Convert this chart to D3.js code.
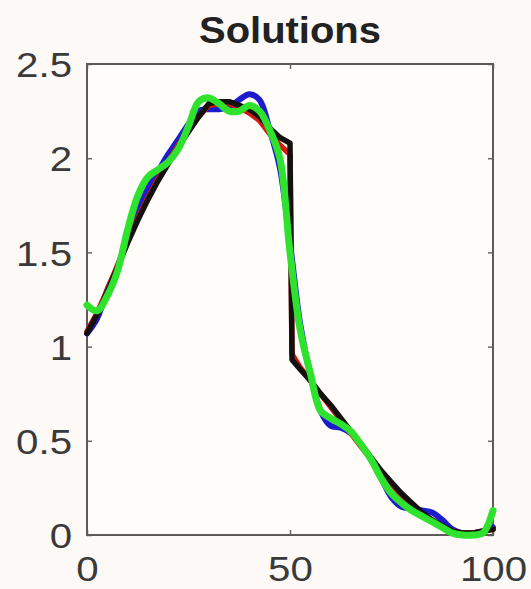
<!DOCTYPE html>
<html>
<head>
<meta charset="utf-8">
<script src="https://cdn.jsdelivr.net/npm/d3@7"></script>
<style>
  html, body { margin: 0; padding: 0; background: #fdf9f6; }
  svg { display: block; }
</style>
</head>
<body>
<svg id="chart" width="531" height="589"></svg>
<script>
// ---- data ----
const titleText = "Solutions";
const xTicks = [0, 50, 100];
const yTicks = [0, 0.5, 1, 1.5, 2, 2.5];

const gridX = [0,2.5,5,7.5,10,12.5,15,17.5,20,22.5,25,27.5,30,32.5,35,37.5,40,42.5,45,47.5,50,52.5,55,57.5,60,62.5,65,67.5,70,72.5,75,77.5,80,82.5,85,87.5,90,92.5,95,97.5,100];
const greenY = [1.22,1.19,1.27,1.40,1.62,1.80,1.90,1.94,1.98,2.05,2.17,2.30,2.32,2.29,2.25,2.25,2.28,2.25,2.15,2.00,1.50,1.09,0.86,0.66,0.62,0.59,0.55,0.48,0.40,0.30,0.22,0.17,0.13,0.10,0.07,0.04,0.01,0.00,0.00,0.01,0.13];
const blueY  = [1.07,1.15,1.30,1.42,1.58,1.72,1.84,1.93,2.02,2.10,2.18,2.25,2.26,2.26,2.27,2.31,2.34,2.31,2.15,1.95,1.55,1.12,0.85,0.66,0.58,0.57,0.54,0.48,0.40,0.30,0.20,0.15,0.14,0.13,0.12,0.08,0.03,0.01,0.01,0.02,0.04];

const exactX = [0,2.5,5,7.5,10,12.5,15,17.5,20,22.5,25,27.5,30,32.5,35,37.5,40,42.5,45,47.5,50,50.5,52.5,55,57.5,60,62.5,65,67.5,70,72.5,75,77.5,80,82.5,85,87.5,90,92.5,95,97.5,100];
const blackY = [1.07,1.17,1.29,1.42,1.55,1.67,1.78,1.88,1.97,2.06,2.14,2.22,2.29,2.30,2.30,2.28,2.26,2.22,2.16,2.11,2.08,0.93,0.88,0.82,0.75,0.69,0.62,0.55,0.48,0.41,0.34,0.28,0.22,0.17,0.12,0.08,0.05,0.02,0.01,0.01,0.02,0.03];
const redY   = [1.08,1.18,1.30,1.43,1.56,1.68,1.79,1.89,1.98,2.07,2.15,2.22,2.28,2.29,2.29,2.27,2.24,2.20,2.13,2.07,2.02,0.96,0.89,0.82,0.75,0.68,0.61,0.54,0.47,0.40,0.33,0.27,0.21,0.16,0.11,0.07,0.04,0.02,0.01,0.01,0.02,0.03];

// ---- layout ----
const svg = d3.select("#chart");
const L = 87, R = 493, T = 64, B = 535;
const x = d3.scaleLinear().domain([0, 100]).range([L, R]);
const y = d3.scaleLinear().domain([0, 2.5]).range([B, T]);

svg.append("rect").attr("x", 0).attr("y", 0).attr("width", 531).attr("height", 589).attr("fill", "#fdf9f6");
svg.append("rect").attr("x", L).attr("y", T).attr("width", R - L).attr("height", B - T).attr("fill", "#fffcfa");

const axisColor = "#666";
const textColor = "#3a3a3a";
const fmt = d => String(d);

function styleAxis(g, showText) {
  g.select(".domain").remove();
  g.selectAll(".tick line").attr("stroke", axisColor).attr("stroke-width", 1.5);
  if (!showText) g.selectAll(".tick text").remove();
  g.selectAll(".tick text")
    .attr("fill", textColor)
    .style("font-family", "'Liberation Sans', Arial, Helvetica, sans-serif")
    .style("font-size", "35px");
}

// left axis (labels)
svg.append("g").attr("transform", `translate(${L},0)`)
  .call(d3.axisLeft(y).tickValues(yTicks).tickSize(-5).tickPadding(13).tickFormat(fmt))
  .call(g => styleAxis(g, true))
  .call(g => g.selectAll(".tick text").attr("dy", "0.36em").attr("transform", "scale(1.15,1)"));
// right axis (ticks only)
svg.append("g").attr("transform", `translate(${R},0)`)
  .call(d3.axisRight(y).tickValues(yTicks).tickSize(-5))
  .call(g => styleAxis(g, false));
// bottom axis
svg.append("g").attr("transform", `translate(0,${B})`)
  .call(d3.axisBottom(x).tickValues(xTicks).tickSize(-5).tickPadding(21).tickFormat(fmt))
  .call(g => styleAxis(g, true))
  .call(g => g.selectAll(".tick text").attr("dy", "0.71em").attr("transform", "scale(1.15,1)"));
// top axis
svg.append("g").attr("transform", `translate(0,${T})`)
  .call(d3.axisTop(x).tickValues(xTicks).tickSize(-5))
  .call(g => styleAxis(g, false));

// frame
svg.append("rect").attr("x", L).attr("y", T).attr("width", R - L).attr("height", B - T)
  .attr("fill", "none").attr("stroke", "#5e5a5a").attr("stroke-width", 2);

// ---- lines ----
function series(xs, ys) { return xs.map((v, i) => [v, ys[i]]); }
const lineLin = d3.line().x(d => x(d[0])).y(d => y(d[1]));
const lineSmooth = d3.line().x(d => x(d[0])).y(d => y(d[1])).curve(d3.curveCatmullRom.alpha(0.5));

const plots = [
  { data: series(gridX, blueY), gen: lineSmooth, color: "#1c1ccc", w: 6 },
  { data: series(exactX, redY), gen: lineLin, color: "#d41a10", w: 5.5 },
  { data: series(exactX, blackY), gen: lineLin, color: "#141010", w: 5.5 },
  { data: series(gridX, greenY), gen: lineSmooth, color: "#2ee22e", w: 7 }
];
plots.forEach(p => {
  svg.append("path").datum(p.data)
    .attr("d", p.gen)
    .attr("fill", "none")
    .attr("stroke", p.color)
    .attr("stroke-width", p.w)
    .attr("stroke-linejoin", "round")
    .attr("stroke-linecap", "round");
});

// ---- title ----
svg.append("text")
  .attr("transform", `translate(${(L + R) / 2},43) scale(1.08,1)`)
  .attr("text-anchor", "middle")
  .attr("fill", "#222")
  .style("font-family", "'Liberation Sans', Arial, Helvetica, sans-serif")
  .style("font-weight", "bold")
  .style("font-size", "37px")
  .text(titleText);
</script>
</body>
</html>
